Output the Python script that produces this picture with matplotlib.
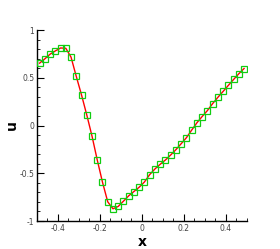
import numpy as np
import matplotlib
matplotlib.use('Agg')
import matplotlib.pyplot as plt
from matplotlib.ticker import MultipleLocator

# cell centres and values
x_pts = np.arange(-0.4875, 0.49, 0.025)
u_pts = [0.653, 0.698, 0.747, 0.781, 0.812, 0.809, 0.716, 0.514, 0.320, 0.111,
         -0.111, -0.361, -0.594, -0.799, -0.872, -0.847, -0.792, -0.736, -0.691, -0.646,
         -0.591, -0.514, -0.455, -0.406, -0.361, -0.309, -0.253, -0.191, -0.128, -0.049,
         0.028, 0.094, 0.156, 0.229, 0.295, 0.357, 0.420, 0.482, 0.542, 0.597]

fig = plt.figure(figsize=(2.8, 2.49), dpi=100)
ax = fig.add_axes([0.132, 0.1124, 0.749, 0.767])

ax.plot(x_pts, u_pts, color='red', lw=1.0, zorder=2)
ax.plot(x_pts, u_pts, ls='none', marker='s', ms=4.5, mfc='none',
        mec='#11cc11', mew=0.9, zorder=3)

ax.set_xlim(-0.5, 0.5)
ax.set_ylim(-1, 1)
ax.spines['top'].set_visible(False)
ax.spines['right'].set_visible(False)
for s in ['left', 'bottom']:
    ax.spines[s].set_linewidth(1.0)

ax.xaxis.set_minor_locator(MultipleLocator(0.05))
ax.yaxis.set_minor_locator(MultipleLocator(0.1))
ax.set_xticks([-0.4, -0.2, 0, 0.2, 0.4])
ax.set_xticklabels(['-0.4', '-0.2', '0', '0.2', '0.4'])
ax.set_yticks([-1, -0.5, 0, 0.5, 1])
ax.set_yticklabels(['-1', '-0.5', '0', '0.5', '1'])
ax.tick_params(which='major', direction='in', length=5, width=0.8,
               labelsize=5.5, labelcolor='#444444', pad=2)
ax.tick_params(which='minor', direction='in', length=2.5, width=0.6)

ax.set_xlabel('x', fontsize=10, fontweight='bold')
ax.set_ylabel('u', fontsize=10, fontweight='bold')
ax.xaxis.set_label_coords(0.5, -0.075)
ax.yaxis.set_label_coords(-0.085, 0.5)

fig.savefig('out.png', dpi=100)
